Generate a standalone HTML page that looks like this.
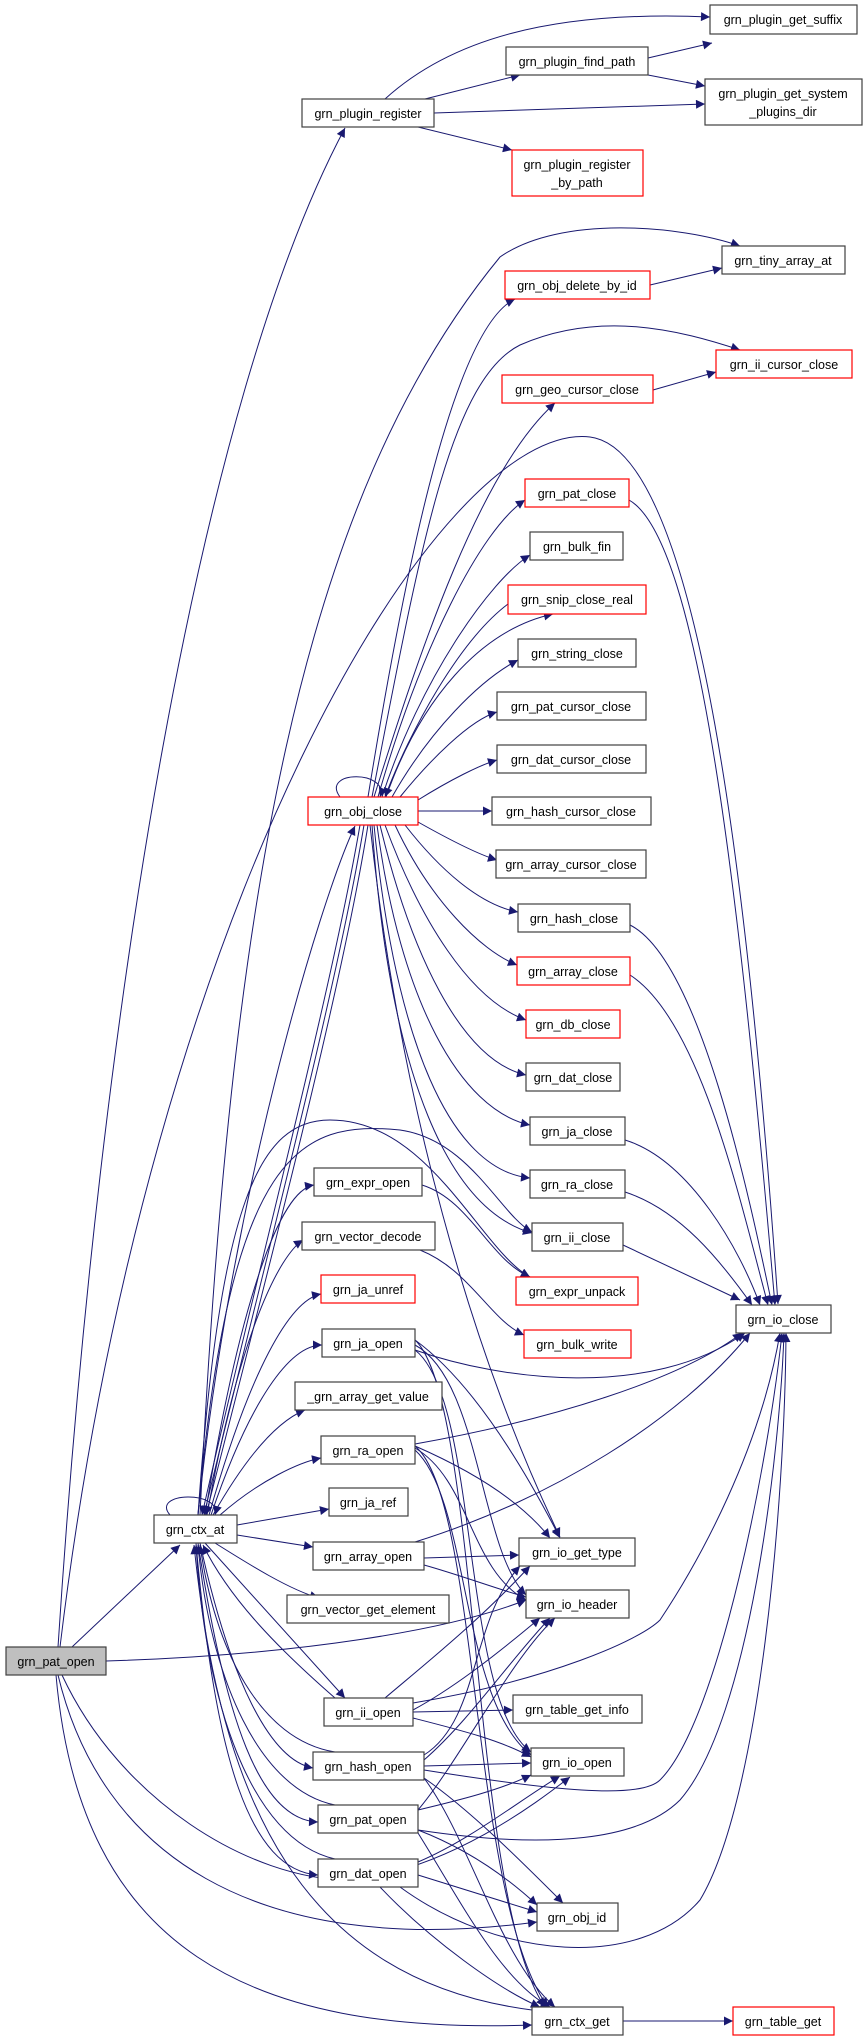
<!DOCTYPE html>
<html><head><meta charset="utf-8"><style>
html,body{margin:0;padding:0;background:#fff;}
svg{display:block;}
text{font-family:"Liberation Sans",sans-serif;font-size:12.5px;fill:#000;text-anchor:middle;}
.n{fill:#fff;stroke:#404040;stroke-width:1.2;}
.r{fill:#fff;stroke:#ff0000;stroke-width:1.2;}
.g{fill:#bfbfbf;stroke:#404040;stroke-width:1.2;}
path.e{fill:none;stroke:#191970;stroke-width:1;marker-end:url(#a);}
</style></head><body>
<svg width="864" height="2041" viewBox="0 0 864 2041" xmlns="http://www.w3.org/2000/svg">
<defs><marker id="a" viewBox="0 0 10 10" refX="10" refY="5" markerWidth="11" markerHeight="9" markerUnits="userSpaceOnUse" orient="auto"><path d="M0,0 L10,5 L0,10 z" fill="#191970"/></marker></defs>
<g>
<path class="e" d="M72,1647 L180,1545"/>
<path class="e" d="M58,1647 C100,1000 200,400 345,128"/>
<path class="e" d="M60,1647 C150,900 440,420 590,437 C700,450 750,900 778,1304"/>
<path class="e" d="M106,1661 C300,1655 450,1630 526,1600"/>
<path class="e" d="M62,1675 C120,1800 250,1880 350,1880 C450,1870 540,1800 570,1777"/>
<path class="e" d="M58,1675 C100,1850 250,1960 537,1922"/>
<path class="e" d="M56,1675 C80,1950 250,2035 532,2025"/>
<path class="e" d="M200,1515 C230,900 300,500 500,257 C560,215 680,225 740,246"/>
<path class="e" d="M198,1515 C230,1200 320,900 355,826"/>
<path class="e" d="M360,825 C330,1000 250,1300 202,1515"/>
<path class="e" d="M364,825 C335,1000 255,1300 204,1515"/>
<path class="e" d="M368,825 C340,1000 260,1300 206,1515"/>
<path class="e" d="M170,1515 C150,1492 222,1490 215,1515"/>
<path class="e" d="M198,1515 C220,1200 260,1120 330,1120 C430,1120 480,1250 530,1277"/>
<path class="e" d="M198,1515 C230,1150 300,1120 400,1130 C470,1140 500,1215 532,1232"/>
<path class="e" d="M370,825 C400,1100 470,1350 560,1537"/>
<path class="e" d="M205,1515 C240,1300 280,1190 314,1185"/>
<path class="e" d="M207,1515 C240,1330 280,1255 303,1240"/>
<path class="e" d="M209,1515 C250,1370 290,1300 321,1294"/>
<path class="e" d="M211,1515 C250,1400 290,1345 322,1345"/>
<path class="e" d="M213,1515 C250,1450 280,1420 305,1410"/>
<path class="e" d="M220,1515 C260,1480 300,1462 321,1458"/>
<path class="e" d="M237,1525 L329,1509"/>
<path class="e" d="M237,1535 L313,1547"/>
<path class="e" d="M215,1543 C250,1565 290,1590 319,1598"/>
<path class="e" d="M205,1543 L345,1698"/>
<path class="e" d="M200,1543 C230,1680 270,1760 313,1768"/>
<path class="e" d="M198,1543 C225,1720 260,1820 318,1822"/>
<path class="e" d="M196,1543 C215,1760 250,1870 318,1875"/>
<path class="e" d="M335,1698 C280,1650 230,1600 203,1545"/>
<path class="e" d="M335,1752 C260,1740 215,1650 200,1545"/>
<path class="e" d="M335,1805 C260,1790 210,1680 198,1545"/>
<path class="e" d="M335,1859 C250,1840 205,1700 196,1545"/>
<path class="e" d="M532,2010 C300,1980 220,1800 194,1545"/>
<path class="e" d="M422,1185 C470,1200 490,1260 530,1277"/>
<path class="e" d="M420,1250 C470,1270 490,1320 524,1335"/>
<path class="e" d="M629,500 C700,540 740,900 775,1305"/>
<path class="e" d="M630,925 C700,960 750,1200 772,1305"/>
<path class="e" d="M630,975 C700,1020 740,1200 768,1305"/>
<path class="e" d="M625,1140 C690,1160 740,1250 760,1305"/>
<path class="e" d="M625,1192 C680,1210 720,1260 752,1305"/>
<path class="e" d="M623,1245 L740,1300"/>
<path class="e" d="M415,1350 C500,1380 650,1400 745,1333"/>
<path class="e" d="M415,1444 C550,1420 680,1380 742,1333"/>
<path class="e" d="M415,1542 C550,1500 680,1420 750,1333"/>
<path class="e" d="M413,1703 C550,1680 640,1640 660,1620 C700,1560 760,1450 780,1333"/>
<path class="e" d="M424,1770 C550,1790 640,1800 660,1780 C720,1720 770,1450 782,1333"/>
<path class="e" d="M418,1830 C550,1850 640,1840 680,1800 C750,1720 780,1450 784,1333"/>
<path class="e" d="M400,1887 C500,1960 640,1970 700,1900 C760,1800 785,1500 786,1333"/>
<path class="e" d="M415,1340 C470,1380 520,1460 560,1538"/>
<path class="e" d="M415,1446 C470,1470 520,1500 550,1538"/>
<path class="e" d="M424,1558 L519,1555"/>
<path class="e" d="M385,1698 C430,1660 480,1620 530,1566"/>
<path class="e" d="M424,1755 C480,1720 470,1620 520,1566"/>
<path class="e" d="M415,1345 C480,1380 480,1550 526,1595"/>
<path class="e" d="M415,1448 C470,1480 470,1570 526,1600"/>
<path class="e" d="M424,1565 C460,1575 500,1590 526,1597"/>
<path class="e" d="M413,1710 C450,1690 490,1660 540,1618"/>
<path class="e" d="M424,1760 C470,1720 510,1660 550,1618"/>
<path class="e" d="M418,1810 C460,1760 510,1660 555,1618"/>
<path class="e" d="M413,1712 L513,1710"/>
<path class="e" d="M415,1350 C480,1400 460,1700 531,1752"/>
<path class="e" d="M415,1450 C470,1500 460,1700 531,1755"/>
<path class="e" d="M413,1718 C460,1730 500,1740 531,1757"/>
<path class="e" d="M424,1766 L531,1763"/>
<path class="e" d="M418,1810 C460,1800 500,1790 531,1775"/>
<path class="e" d="M418,1862 C470,1840 520,1800 560,1776"/>
<path class="e" d="M424,1778 C470,1810 520,1860 563,1903"/>
<path class="e" d="M418,1830 C470,1850 510,1880 537,1905"/>
<path class="e" d="M418,1875 L537,1912"/>
<path class="e" d="M424,1778 C470,1840 500,1960 555,2007"/>
<path class="e" d="M418,1833 C460,1900 500,1980 550,2007"/>
<path class="e" d="M380,1887 C430,1940 500,1990 540,2007"/>
<path class="e" d="M415,1340 C480,1400 470,1900 545,2007"/>
<path class="e" d="M415,1446 C480,1500 470,1900 548,2007"/>
<path class="e" d="M623,2021 L733,2021"/>
<path class="e" d="M385,99 C450,40 550,10 710,17"/>
<path class="e" d="M425,99 L520,75"/>
<path class="e" d="M434,113 L705,104"/>
<path class="e" d="M418,127 L512,150"/>
<path class="e" d="M648,58 L712,43"/>
<path class="e" d="M648,75 L705,86"/>
<path class="e" d="M650,285 L722,268"/>
<path class="e" d="M653,390 L716,372"/>
<path class="e" d="M368,797 C400,600 450,330 515,299"/>
<path class="e" d="M372,797 C420,550 450,380 520,345 C600,310 680,330 740,350"/>
<path class="e" d="M374,797 C420,650 480,470 555,403"/>
<path class="e" d="M378,797 C420,650 480,530 525,500"/>
<path class="e" d="M382,797 C420,680 490,580 530,555"/>
<path class="e" d="M386,797 C420,700 480,630 553,614"/>
<path class="e" d="M508,604 C460,640 410,730 385,797"/>
<path class="e" d="M392,797 C430,730 480,680 518,660"/>
<path class="e" d="M400,797 C430,760 470,720 497,712"/>
<path class="e" d="M418,800 C450,780 480,765 497,760"/>
<path class="e" d="M418,811 L492,811"/>
<path class="e" d="M418,822 C450,840 480,855 497,860"/>
<path class="e" d="M405,825 C440,870 480,905 518,912"/>
<path class="e" d="M395,825 C430,900 480,950 517,965"/>
<path class="e" d="M385,825 C420,920 470,1000 526,1020"/>
<path class="e" d="M380,825 C410,950 460,1060 526,1075"/>
<path class="e" d="M377,825 C400,1000 460,1110 530,1125"/>
<path class="e" d="M374,825 C395,1040 450,1170 530,1178"/>
<path class="e" d="M372,825 C390,1080 450,1210 532,1233"/>
<path class="e" d="M340,797 C320,770 390,770 380,797"/>
</g>
<g>
<rect class="n" x="710" y="5" width="147" height="29"/><text x="783" y="24">grn_plugin_get_suffix</text>
<rect class="n" x="506" y="47" width="142" height="28"/><text x="577" y="66">grn_plugin_find_path</text>
<rect class="n" x="705" y="79" width="157" height="46"/><text x="783" y="98">grn_plugin_get_system</text><text x="783" y="116">_plugins_dir</text>
<rect class="n" x="302" y="99" width="132" height="28"/><text x="368" y="118">grn_plugin_register</text>
<rect class="r" x="512" y="150" width="131" height="46"/><text x="577" y="169">grn_plugin_register</text><text x="577" y="187">_by_path</text>
<rect class="n" x="722" y="246" width="123" height="28"/><text x="783" y="265">grn_tiny_array_at</text>
<rect class="r" x="505" y="271" width="145" height="28"/><text x="577" y="290">grn_obj_delete_by_id</text>
<rect class="r" x="716" y="350" width="136" height="28"/><text x="784" y="369">grn_ii_cursor_close</text>
<rect class="r" x="502" y="375" width="151" height="28"/><text x="577" y="394">grn_geo_cursor_close</text>
<rect class="r" x="525" y="479" width="104" height="28"/><text x="577" y="498">grn_pat_close</text>
<rect class="n" x="530" y="532" width="93" height="28"/><text x="577" y="551">grn_bulk_fin</text>
<rect class="r" x="508" y="585" width="138" height="29"/><text x="577" y="604">grn_snip_close_real</text>
<rect class="n" x="518" y="639" width="118" height="28"/><text x="577" y="658">grn_string_close</text>
<rect class="n" x="497" y="692" width="149" height="28"/><text x="571" y="711">grn_pat_cursor_close</text>
<rect class="n" x="497" y="745" width="149" height="28"/><text x="571" y="764">grn_dat_cursor_close</text>
<rect class="r" x="308" y="797" width="110" height="28"/><text x="363" y="816">grn_obj_close</text>
<rect class="n" x="492" y="797" width="159" height="28"/><text x="571" y="816">grn_hash_cursor_close</text>
<rect class="n" x="496" y="850" width="150" height="28"/><text x="571" y="869">grn_array_cursor_close</text>
<rect class="n" x="518" y="904" width="112" height="28"/><text x="574" y="923">grn_hash_close</text>
<rect class="r" x="517" y="957" width="113" height="28"/><text x="573" y="976">grn_array_close</text>
<rect class="r" x="526" y="1010" width="94" height="28"/><text x="573" y="1029">grn_db_close</text>
<rect class="n" x="526" y="1063" width="94" height="28"/><text x="573" y="1082">grn_dat_close</text>
<rect class="n" x="530" y="1117" width="95" height="28"/><text x="577" y="1136">grn_ja_close</text>
<rect class="n" x="530" y="1170" width="95" height="28"/><text x="577" y="1189">grn_ra_close</text>
<rect class="n" x="532" y="1223" width="91" height="28"/><text x="577" y="1242">grn_ii_close</text>
<rect class="r" x="516" y="1277" width="122" height="28"/><text x="577" y="1296">grn_expr_unpack</text>
<rect class="r" x="524" y="1330" width="107" height="28"/><text x="577" y="1349">grn_bulk_write</text>
<rect class="n" x="736" y="1305" width="95" height="28"/><text x="783" y="1324">grn_io_close</text>
<rect class="n" x="314" y="1168" width="108" height="28"/><text x="368" y="1187">grn_expr_open</text>
<rect class="n" x="302" y="1222" width="133" height="28"/><text x="368" y="1241">grn_vector_decode</text>
<rect class="r" x="321" y="1275" width="94" height="28"/><text x="368" y="1294">grn_ja_unref</text>
<rect class="n" x="322" y="1329" width="93" height="28"/><text x="368" y="1348">grn_ja_open</text>
<rect class="n" x="295" y="1382" width="147" height="28"/><text x="368" y="1401">_grn_array_get_value</text>
<rect class="n" x="321" y="1436" width="94" height="28"/><text x="368" y="1455">grn_ra_open</text>
<rect class="n" x="329" y="1488" width="79" height="28"/><text x="368" y="1507">grn_ja_ref</text>
<rect class="n" x="154" y="1515" width="83" height="28"/><text x="195" y="1534">grn_ctx_at</text>
<rect class="n" x="313" y="1542" width="111" height="28"/><text x="368" y="1561">grn_array_open</text>
<rect class="n" x="287" y="1595" width="162" height="28"/><text x="368" y="1614">grn_vector_get_element</text>
<rect class="g" x="6" y="1647" width="100" height="28"/><text x="56" y="1666">grn_pat_open</text>
<rect class="n" x="324" y="1698" width="89" height="28"/><text x="368" y="1717">grn_ii_open</text>
<rect class="n" x="313" y="1752" width="111" height="28"/><text x="368" y="1771">grn_hash_open</text>
<rect class="n" x="318" y="1805" width="100" height="28"/><text x="368" y="1824">grn_pat_open</text>
<rect class="n" x="318" y="1859" width="100" height="28"/><text x="368" y="1878">grn_dat_open</text>
<rect class="n" x="519" y="1538" width="116" height="28"/><text x="577" y="1557">grn_io_get_type</text>
<rect class="n" x="526" y="1590" width="103" height="28"/><text x="577" y="1609">grn_io_header</text>
<rect class="n" x="513" y="1695" width="129" height="28"/><text x="577" y="1714">grn_table_get_info</text>
<rect class="n" x="531" y="1748" width="93" height="28"/><text x="577" y="1767">grn_io_open</text>
<rect class="n" x="537" y="1903" width="81" height="28"/><text x="577" y="1922">grn_obj_id</text>
<rect class="n" x="532" y="2007" width="91" height="28"/><text x="577" y="2026">grn_ctx_get</text>
<rect class="r" x="733" y="2007" width="101" height="28"/><text x="783" y="2026">grn_table_get</text>
</g>
</svg>
</body></html>
